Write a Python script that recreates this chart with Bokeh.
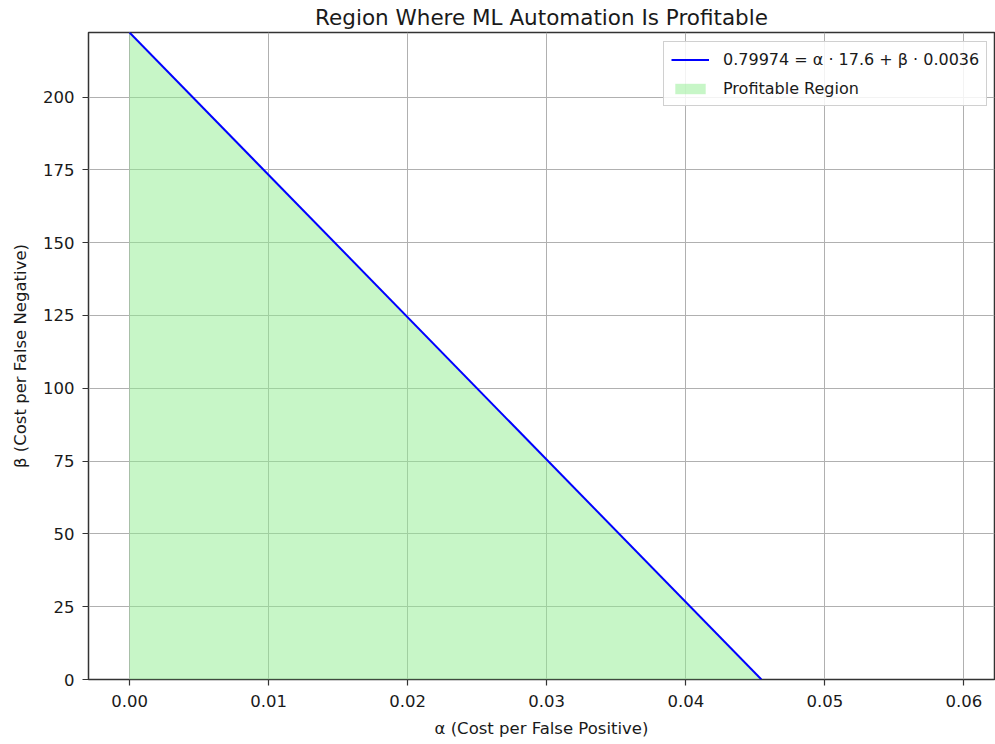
from bokeh.plotting import figure
from bokeh.models import Range1d, FixedTicker, NumeralTickFormatter, Legend, LegendItem
from bokeh.embed import file_html
from bokeh.resources import INLINE

# Break-even equation: C = alpha * A + beta * B
C = 0.79974
A = 17.6
B = 0.0036
eq_label = "0.79974 = α · 17.6 + β · 0.0036"
title_text = "Region Where ML Automation Is Profitable"

alpha_pts = [0.0, C / A]
beta_pts = [C / B, 0.0]
zero_pts = [0.0, 0.0]

x_ticks = [0.0, 0.01, 0.02, 0.03, 0.04, 0.05, 0.06]
y_ticks = [0, 25, 50, 75, 100, 125, 150, 175, 200]

FONT = "DejaVu Sans"
TXT = "#1a1a1a"

p = figure(width=995, height=744, output_backend="svg", toolbar_location=None,
           x_range=Range1d(-0.00295, 0.0622), y_range=Range1d(0, C / B),
           title=title_text,
           min_border_left=88, min_border_right=1, min_border_top=32, min_border_bottom=65)

p.title.align = "center"
p.title.text_font = FONT
p.title.text_font_size = "21.5px"
p.title.text_font_style = "normal"
p.title.text_color = TXT
p.title.standoff = 5

fill = p.varea(x=alpha_pts, y1=zero_pts, y2=beta_pts, fill_color="lightgreen", fill_alpha=0.5)
line = p.line(alpha_pts, beta_pts, line_color="blue", line_width=2)

legend = Legend(items=[LegendItem(label=eq_label, renderers=[line]),
                       LegendItem(label="Profitable Region", renderers=[fill])],
                location=(575, 573))
legend.label_text_font = FONT
legend.label_text_font_size = "16px"
legend.label_text_color = TXT
legend.border_line_color = "#d0d0d0"
legend.border_line_alpha = 1
legend.border_line_width = 1
legend.background_fill_alpha = 0.85
legend.padding = 7
legend.spacing = 9
legend.glyph_width = 38
legend.glyph_height = 13
legend.label_height = 20
legend.label_standoff = 14
p.add_layout(legend)

p.xaxis.ticker = FixedTicker(ticks=x_ticks)
p.yaxis.ticker = FixedTicker(ticks=y_ticks)
p.xaxis.formatter = NumeralTickFormatter(format="0.00")
p.xaxis.axis_label = "α (Cost per False Positive)"
p.yaxis.axis_label = "β (Cost per False Negative)"

for ax in (p.xaxis, p.yaxis):
    ax.axis_label_text_font = FONT
    ax.axis_label_text_font_size = "16.5px"
    ax.axis_label_text_font_style = "normal"
    ax.axis_label_text_color = TXT
    ax.major_label_text_font = FONT
    ax.major_label_text_font_size = "16.5px"
    ax.major_label_text_color = TXT
    ax.major_tick_out = 6
    ax.major_tick_in = 0
    ax.minor_tick_out = 0
    ax.minor_tick_in = 0
    ax.axis_line_color = None
    ax.major_tick_line_color = "#333333"
    ax.major_tick_line_width = 1.2

p.yaxis.major_label_standoff = 8
p.yaxis.axis_label_standoff = 10
p.xaxis.major_label_standoff = 9
p.xaxis.axis_label_standoff = 9

p.xgrid.ticker = FixedTicker(ticks=x_ticks)
p.ygrid.ticker = FixedTicker(ticks=y_ticks)
p.grid.grid_line_color = "#b0b0b0"
p.grid.grid_line_width = 1

p.outline_line_color = "#333333"
p.outline_line_width = 1.5
p.background_fill_color = "white"
p.border_fill_color = "white"

open("out.html", "w").write(file_html(p, INLINE))
